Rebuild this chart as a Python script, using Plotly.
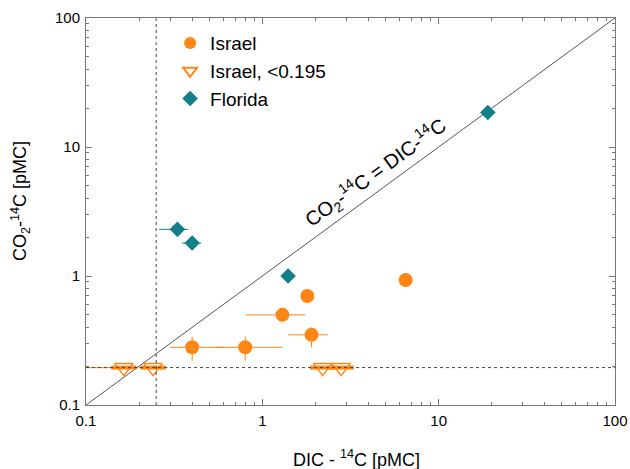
import plotly.graph_objects as go

# ---- data ----
israel_x = [0.4, 0.8, 1.3, 1.8, 1.9, 6.5]
israel_y = [0.28, 0.28, 0.5, 0.7, 0.35, 0.93]
israel_xerr_plus = [0.2, 0.5, 0.45, 0.0, 0.45, 0.0]
israel_xerr_minus = [0.1, 0.25, 0.5, 0.0, 0.5, 0.0]
israel_yerr_plus = [0.06, 0.06, 0.0, 0.0, 0.05, 0.05]
israel_yerr_minus = [0.06, 0.06, 0.0, 0.0, 0.07, 0.05]

lim_x = [0.164, 0.24, 2.2, 2.8]
lim_y = [0.195, 0.195, 0.195, 0.195]
lim_xerr_plus = [0.031, 0.05, 0.0, 0.0]
lim_xerr_minus = [0.07, 0.04, 0.0, 0.0]

florida_x = [0.33, 0.4, 1.4, 19.0]
florida_y = [2.3, 1.8, 1.0, 18.5]
florida_xerr_plus = [0.05, 0.05, 0.0, 0.0]
florida_xerr_minus = [0.07, 0.05, 0.0, 0.0]

one_to_one = [0.1, 100]
dic_limit = 0.25
co2_limit = 0.195

tick_vals = [0.1, 1, 10, 100]
tick_text = ["0.1", "1", "10", "100"]
minor_vals = [m * d for d in (0.1, 1, 10) for m in range(2, 10)]

ORANGE = "#FF8514"
TEAL = "#137F8A"
AXIS = "#777777"
FONT = "Liberation Sans, Arial, sans-serif"

fig = go.Figure()

# 1:1 line
fig.add_trace(go.Scatter(x=one_to_one, y=one_to_one, mode="lines",
                         line=dict(color="#555555", width=1), showlegend=False,
                         hoverinfo="skip"))

fig.add_trace(go.Scatter(
    x=israel_x, y=israel_y, mode="markers", name="Israel",
    marker=dict(symbol="circle", size=14, color=ORANGE),
    error_x=dict(type="data", symmetric=False, array=israel_xerr_plus,
                 arrayminus=israel_xerr_minus, color=ORANGE, thickness=1, width=0),
    error_y=dict(type="data", symmetric=False, array=israel_yerr_plus,
                 arrayminus=israel_yerr_minus, color=ORANGE, thickness=1, width=0),
))

fig.add_trace(go.Scatter(
    x=lim_x, y=lim_y, mode="markers", name="Israel, <0.195",
    marker=dict(symbol="triangle-down-open", size=16, color=ORANGE,
                line=dict(width=1.5, color=ORANGE)),
    error_x=dict(type="data", symmetric=False, array=lim_xerr_plus,
                 arrayminus=lim_xerr_minus, color=ORANGE, thickness=1, width=0),
))
fig.add_trace(go.Scatter(
    x=lim_x, y=lim_y, mode="markers", showlegend=False, hoverinfo="skip",
    marker=dict(symbol="line-ew", size=18, line=dict(width=4, color=ORANGE)),
))

fig.add_trace(go.Scatter(
    x=florida_x, y=florida_y, mode="markers", name="Florida",
    marker=dict(symbol="diamond", size=12, color=TEAL),
    error_x=dict(type="data", symmetric=False, array=florida_xerr_plus,
                 arrayminus=florida_xerr_minus, color=TEAL, thickness=1, width=0),
))

# invisible trace to carry the minor-tick axes
fig.add_trace(go.Scatter(x=one_to_one, y=one_to_one, xaxis="x2", yaxis="y2",
                         mode="lines", line=dict(width=0), opacity=0,
                         showlegend=False, hoverinfo="skip"))

# dotted limit lines
fig.add_shape(type="line", xref="x", yref="paper", x0=dic_limit, x1=dic_limit, y0=0, y1=1,
              line=dict(color="#444444", width=1, dash="dot"))
fig.add_shape(type="line", xref="paper", yref="y", x0=0, x1=1, y0=co2_limit, y1=co2_limit,
              line=dict(color="#444444", width=1, dash="dot"))

fig.add_annotation(x=0.64, y=0.806, xref="x", yref="y",
                   text="CO<sub>2</sub>-<sup>14</sup>C = DIC-<sup>14</sup>C",
                   showarrow=False, textangle=-36,
                   font=dict(family=FONT, size=20, color="black"))

# axis titles
fig.add_annotation(x=0.512, y=-0.137, xref="paper", yref="paper",
                   text="DIC - <sup>14</sup>C [pMC]", showarrow=False,
                   xanchor="center", yanchor="middle",
                   font=dict(family=FONT, size=18, color="black"))
fig.add_annotation(x=-0.125, y=0.527, xref="paper", yref="paper",
                   text="CO<sub>2</sub>-<sup>14</sup>C [pMC]", showarrow=False,
                   textangle=-90, xanchor="center", yanchor="middle",
                   font=dict(family=FONT, size=18, color="black"))

axis_common = dict(type="log", range=[-1, 2], tickvals=tick_vals, ticktext=tick_text,
                   ticks="inside", ticklen=6, tickcolor=AXIS,
                   showline=True, linecolor=AXIS, linewidth=1, mirror="ticks",
                   showgrid=False, zeroline=False, automargin=False,
                   tickfont=dict(family=FONT, size=15, color="black"))
minor_common = dict(type="log", range=[-1, 2], tickvals=minor_vals,
                    showticklabels=False, ticks="inside", ticklen=3, tickcolor=AXIS,
                    showline=True, linecolor=AXIS, linewidth=1, mirror="ticks",
                    showgrid=False, zeroline=False, automargin=False)

fig.update_layout(
    width=630, height=469,
    margin=dict(l=86, r=15, t=18, b=64),
    plot_bgcolor="white", paper_bgcolor="white",
    xaxis=dict(**axis_common, ticklabelstandoff=2),
    yaxis=dict(**axis_common, ticklabelstandoff=2),
    xaxis2=dict(**minor_common, overlaying="x", side="bottom"),
    yaxis2=dict(**minor_common, overlaying="y", side="left"),
    legend=dict(x=0.159, y=0.984, xanchor="left", yanchor="top",
                bgcolor="rgba(0,0,0,0)", itemsizing="constant",
                font=dict(family=FONT, size=19, color="black"),
                tracegroupgap=0),
    showlegend=True,
)

fig.write_html("out.html", config={"displayModeBar": False},
               post_script="document.body.style.margin='0';document.body.style.overflow='hidden';")
